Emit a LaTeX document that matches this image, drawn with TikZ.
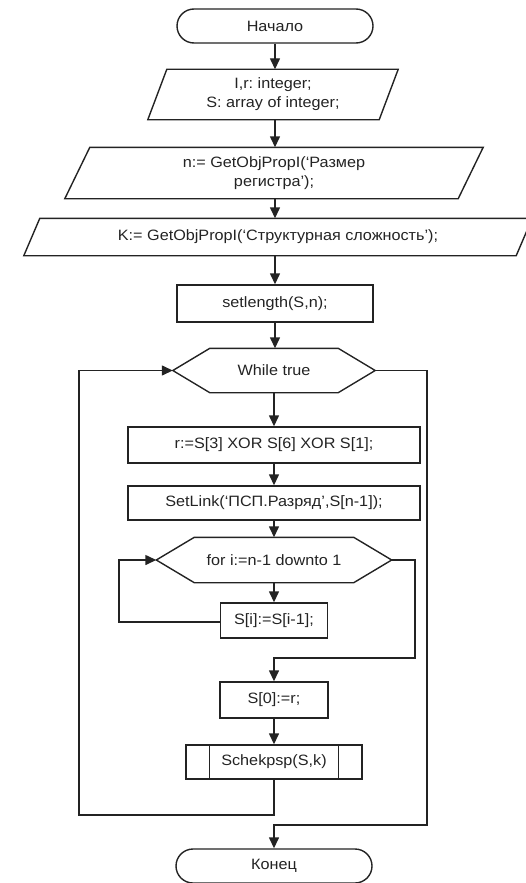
\documentclass[tikz,border=0pt]{standalone}
\usepackage{fontspec}
\setmainfont{Liberation Sans}[FakeStretch=1.08]
\usetikzlibrary{arrows.meta,shapes.misc}
\definecolor{ink}{RGB}{35,35,35}
\frenchspacing
\begin{document}
\begin{tikzpicture}[x=1pt,y=-1pt,
  line width=1.4pt, color=ink,
  arr/.style={-{Triangle[length=11pt,width=10pt]}},
  txt/.style={font=\fontsize{15}{19}\selectfont, align=center, inner sep=0pt},
  proc/.style={txt, draw, rectangle},
  term/.style={txt, draw, rounded rectangle, minimum width=196pt, minimum height=34pt},
  flat/.style={txt, rectangle}
]
\useasboundingbox (0,0) rectangle (525,883);

% nodes
\node[term] (start) at (275,26) {Начало};
\node[flat, minimum width=230pt, minimum height=49pt] (p1) at (273,94.5) {I,r: integer;\\S: array of integer;};
\node[flat, minimum width=392pt, minimum height=50pt] (p2) at (274,173) {n:= GetObjPropI(‘Размер\\регистра’);};
\node[flat, minimum width=491pt, minimum height=36pt] (p3) at (278,237) {K:= GetObjPropI(‘Структурная сложность’);};
\node[proc, minimum width=196pt, minimum height=37pt] (setl) at (275,303.5) {setlength(S,n);};
\node[flat, minimum width=127pt, minimum height=43pt] (wh) at (274,370.5) {While true};
\node[proc, minimum width=292pt, minimum height=36pt] (rbox) at (274,445) {r:=S[3] XOR S[6] XOR S[1];};
\node[proc, minimum width=292pt, minimum height=34pt] (link) at (274,503) {SetLink(‘ПСП.Разряд’,S[n-1]);};
\node[flat, minimum width=158pt, minimum height=44pt] (for) at (274,560) {for i:=n-1 downto 1};
\node[proc, minimum width=107pt, minimum height=35pt] (si) at (274,620.5) {S[i]:=S[i-1];};
\node[proc, minimum width=108pt, minimum height=36pt] (s0) at (274,700) {S[0]:=r;};
\node[proc, minimum width=176pt, minimum height=34pt] (sch) at (274,762) {Schekpsp(S,k)};
\node[term] (end) at (274,866) {Конец};

% parallelograms
\draw ([xshift=9.5pt]p1.north west) -- ([xshift=9.5pt]p1.north east) -- ([xshift=-9.5pt]p1.south east) -- ([xshift=-9.5pt]p1.south west) -- cycle;
\draw ([xshift=12.5pt]p2.north west) -- ([xshift=12.5pt]p2.north east) -- ([xshift=-12.5pt]p2.south east) -- ([xshift=-12.5pt]p2.south west) -- cycle;
\draw ([xshift=8pt]p3.north west) -- ([xshift=8pt]p3.north east) -- ([xshift=-8pt]p3.south east) -- ([xshift=-8pt]p3.south west) -- cycle;

% hexagons
\coordinate (whL) at ([xshift=-37pt]wh.west);
\coordinate (whR) at ([xshift=37pt]wh.east);
\draw (wh.north west) -- (wh.north east) -- (whR) -- (wh.south east) -- (wh.south west) -- (whL) -- cycle;
\coordinate (forL) at ([xshift=-38pt]for.west);
\coordinate (forR) at ([xshift=38pt]for.east);
\draw (for.north west) -- (for.north east) -- (forR) -- (for.south east) -- (for.south west) -- (forL) -- cycle;

% subprocess inner lines
\draw ([xshift=24pt]sch.north west) -- ([xshift=24pt]sch.south west);
\draw ([xshift=-24pt]sch.north east) -- ([xshift=-24pt]sch.south east);

% main arrows
\draw[arr] (start.south) -- (start.south |- p1.north);
\draw[arr] (p1.south -| start.south) -- (start.south |- p2.north);
\draw[arr] (p2.south -| start.south) -- (start.south |- p3.north);
\draw[arr] (p3.south -| setl.north) -- (setl.north);
\draw[arr] (setl.south) -- (setl.south |- wh.north);
\draw[arr] (wh.south) -- (rbox.north);
\draw[arr] (rbox.south) -- (link.north);
\draw[arr] (link.south) -- (for.north);
\draw[arr] (for.south) -- (si.north);
\draw[arr] (s0.south) -- (sch.north);

% inner loop (for)
\coordinate (fl) at (119,622);
\draw[arr] (si.west |- fl) -- (fl) |- (forL);
\coordinate (fr) at (415,658);
\draw[arr] (forR) -| (fr) -| (s0.north);

% outer loop (while)
\coordinate (bl) at (79,815);
\draw[arr] (sch.south) |- (bl) |- (whL);
\coordinate (wr) at (427,825);
\draw[arr] (whR) -| (wr) -| (end.north);
\end{tikzpicture}
\end{document}
